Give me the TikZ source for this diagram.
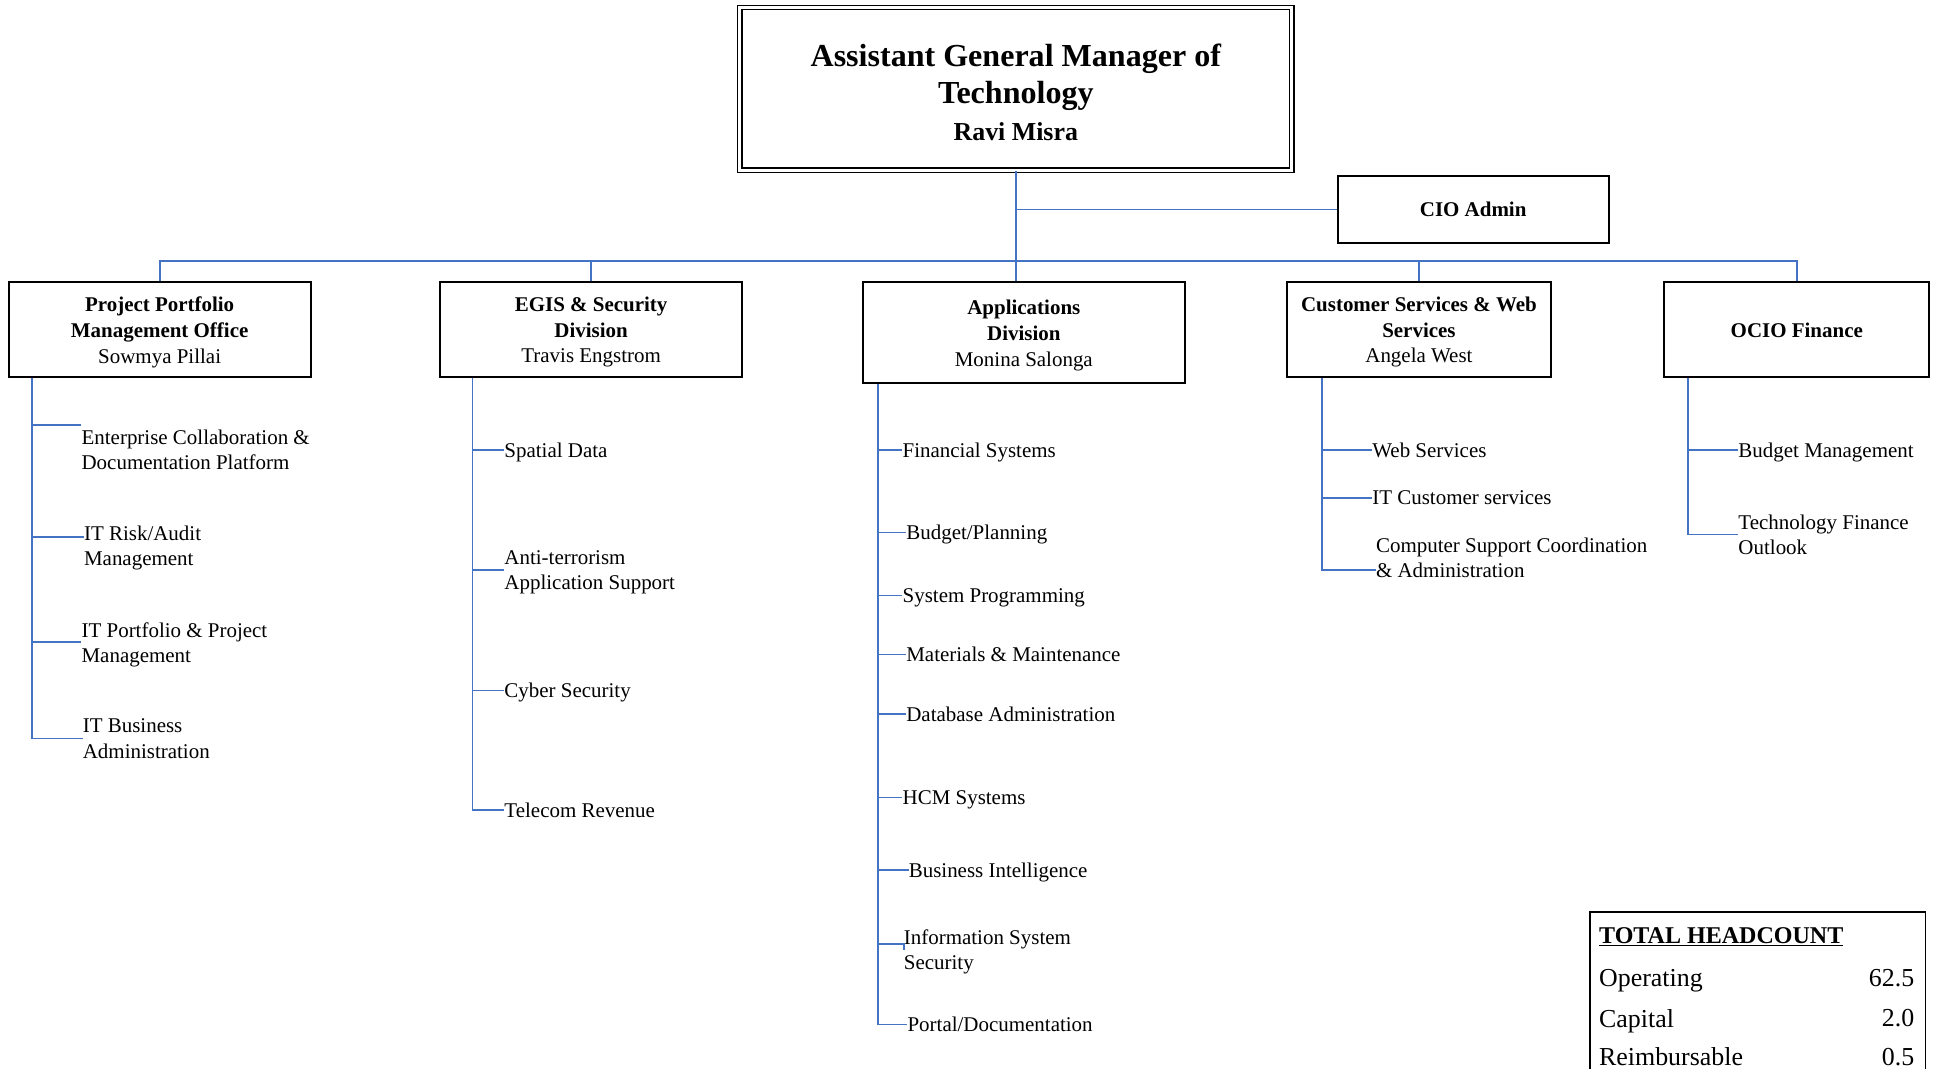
\documentclass[tikz,border=0pt]{standalone}
\usepackage{fontspec}
\setmainfont{Liberation Serif}
\definecolor{linkblue}{RGB}{68,114,196}
\tikzset{
  link/.style={draw=linkblue, line width=1.4pt},
  unit/.style={draw=black, line width=1.6pt, align=center, inner sep=2pt, text depth=0pt, font=\fontsize{17}{21}\selectfont},
  item/.style={anchor=west, inner sep=0pt, align=left, text depth=0pt, font=\fontsize{17}{20.5}\selectfont},
  hcrow/.style={anchor=west, inner sep=0pt, text depth=0pt, font=\fontsize{21}{24}\selectfont},
  hcval/.style={anchor=east, inner sep=0pt, text depth=0pt, font=\fontsize{21}{24}\selectfont},
}
\begin{document}
\begin{tikzpicture}[x=1pt, y=-1pt]
    \useasboundingbox (0,0) rectangle (1568,867);

    % head of the office
    \node[draw, double, line width=1.1pt, double distance=2.4pt, minimum width=448pt, minimum height=132pt] (agm) at (824,72) {};
    \node[align=center, inner sep=0pt, font=\fontsize{26}{30}\selectfont\bfseries] (agm-t) at (824,75)
          {Assistant General Manager of\\Technology\\{\fontsize{21}{29}\selectfont Ravi Misra}};
    \node[unit, minimum width=220pt, minimum height=54pt] (cio) at (1195,170) {\textbf{CIO Admin}};

    % divisions
    \node[unit, minimum width=245pt, minimum height=77pt] (ppmo) at (129.5,267.5)
          {\textbf{Project Portfolio}\\\textbf{Management Office}\\Sowmya Pillai};
    \node[unit, minimum width=245pt, minimum height=77pt] (egis) at (479.5,267.5)
          {\textbf{EGIS \& Security}\\\textbf{Division}\\Travis Engstrom};
    \node[unit, minimum width=261pt, minimum height=82pt] (apps) at (830.5,270)
          {\textbf{Applications}\\\textbf{Division}\\Monina Salonga};
    \node[unit, minimum width=214pt, minimum height=77pt] (csws) at (1151,267.5)
          {\textbf{Customer Services \& Web}\\\textbf{Services}\\Angela West};
    \node[unit, minimum width=215pt, minimum height=77pt] (ocio) at (1457.5,267.5)
          {\textbf{OCIO Finance}};

    \coordinate (bus) at (824,212);
    \draw[link] (agm.south) -- (agm.south |- apps.north);
    \draw[link] (agm.south |- cio.west) -- (cio.west);
    \draw[link] (ppmo.north) |- (bus -| ocio.north) -- (ocio.north);
    \draw[link] (egis.north) -- (egis.north |- bus);
    \draw[link] (csws.north) -- (csws.north |- bus);

    % Project Portfolio Management Office
    \coordinate (ppmo-s) at ([xshift=20pt]ppmo.south west);
    \node[item] (ecdp) at (66,365) {Enterprise Collaboration \&\\Documentation Platform};
    \node[item] (risk) at (68,442.5) {IT Risk/Audit\\Management};
    \node[item] (itpm) at (66,521) {IT Portfolio \& Project\\Management};
    \node[item] (itba) at (67,599) {IT Business\\Administration};
    \draw[link] (ppmo-s) |- ([yshift=20pt]ecdp.west);
    \draw[link] (ppmo-s) |- ([yshift=7pt]risk.west);
    \draw[link] (ppmo-s) |- (itpm.west);
    \draw[link] (ppmo-s) |- (itba.west);

    % EGIS & Security
    \coordinate (egis-s) at ([xshift=27pt]egis.south west);
    \node[item] (spat) at (409,365) {Spatial Data};
    \node[item] (anti) at (409,462.5) {Anti-terrorism\\Application Support};
    \node[item] (cyber) at (409,560) {Cyber Security};
    \node[item] (tele) at (409,657) {Telecom Revenue};
    \draw[link] (egis-s) |- (spat.west);
    \draw[link] (egis-s) |- (anti.west);
    \draw[link] (egis-s) |- (cyber.west);
    \draw[link] (egis-s) |- (tele.west);

    % Applications
    \coordinate (apps-s) at ([xshift=13pt]apps.south west);
    \node[item] (fin) at (732,365) {Financial Systems};
    \node[item] (budp) at (735,432) {Budget/Planning};
    \node[item] (sysp) at (732,483) {System Programming};
    \node[item] (matm) at (735,531) {Materials \& Maintenance};
    \node[item] (dba) at (735,579) {Database Administration};
    \node[item] (hcm) at (732,647) {HCM Systems};
    \node[item] (bi) at (737,706) {Business Intelligence};
    \node[item] (infosec) at (733,770.5) {Information System\\Security};
    \node[item] (portal) at (736,831) {Portal/Documentation};
    \draw[link] (apps-s) |- (fin.west);
    \draw[link] (apps-s) |- (budp.west);
    \draw[link] (apps-s) |- (sysp.west);
    \draw[link] (apps-s) |- (matm.west);
    \draw[link] (apps-s) |- (dba.west);
    \draw[link] (apps-s) |- (hcm.west);
    \draw[link] (apps-s) |- (bi.west);
    \draw[link] (apps-s) |- ([yshift=5pt]infosec.west) -- (infosec.west);
    \draw[link] (apps-s) |- (portal.west);

    % Customer Services & Web Services
    \coordinate (csws-s) at ([xshift=29pt]csws.south west);
    \node[item] (web) at (1113,365) {Web Services};
    \node[item] (itcs) at (1113,404) {IT Customer services};
    \node[item] (csca) at (1116,452.5) {Computer Support Coordination\\\& Administration};
    \draw[link] (csws-s) |- (web.west);
    \draw[link] (csws-s) |- (itcs.west);
    \draw[link] (csws-s) |- ([yshift=-10pt]csca.west);

    % OCIO Finance
    \coordinate (ocio-s) at ([xshift=20pt]ocio.south west);
    \node[item] (budm) at (1410,365) {Budget Management};
    \node[item] (tfo) at (1410,433.5) {Technology Finance\\Outlook};
    \draw[link] (ocio-s) |- (budm.west);
    \draw[link] (ocio-s) |- (tfo.west);

    % headcount table
    \draw[line width=1.4pt] (1290,740) rectangle (1562,880);
    \node[anchor=west, inner sep=0pt, font=\fontsize{19.5}{22}\selectfont\bfseries] (hc) at (1297,760) {\underline{TOTAL HEADCOUNT}};
    \node[hcrow] (hc-op) at (1297,793) {Operating};
    \node[hcval] (hc-opv) at (1553,793) {62.5};
    \node[hcrow] (hc-cap) at (1297,826) {Capital};
    \node[hcval] (hc-capv) at (1553,826) {2.0};
    \node[hcrow] (hc-re) at (1297,857) {Reimbursable};
    \node[hcval] (hc-rev) at (1553,857) {0.5};
\end{tikzpicture}
\end{document}
